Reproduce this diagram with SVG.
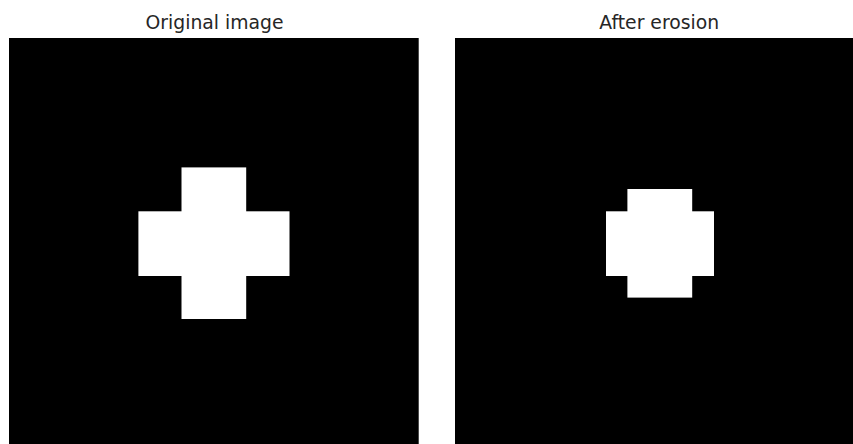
<svg xmlns="http://www.w3.org/2000/svg" width="853" height="444" viewBox="0 0 853 444">
<style>
.t{font-family:"DejaVu Sans",sans-serif;font-size:18.8px;fill:#262626;text-anchor:middle}
.bg{fill:#000}
.fg{fill:#fff}
</style>
<rect width="853" height="444" fill="#fff"/>
<g id="original">
<text class="t" x="214.5" y="29">Original image</text>
<rect class="bg" x="9" y="38" width="409.7" height="409.7"/>
<rect class="fg" x="181.5" y="167.4" width="64.7" height="151.6"/>
<rect class="fg" x="138.4" y="211.3" width="151.1" height="64.7"/>
</g>
<g id="eroded">
<text class="t" x="659.2" y="29">After erosion</text>
<rect class="bg" x="455" y="38" width="409.7" height="409.7"/>
<rect class="fg" x="627.4" y="189" width="64.8" height="108.6"/>
<rect class="fg" x="606" y="211.3" width="108" height="64.7"/>
</g>
</svg>
